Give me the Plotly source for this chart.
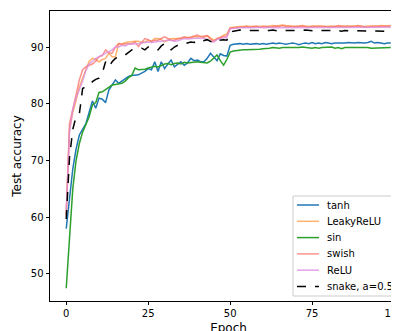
import plotly.graph_objects as go

tanh = [58.0, 63.5, 68.5, 72.0, 74.5, 75.5, 76.5, 78.5, 80.5, 79.2,
        81.0, 80.8, 80.2, 82.4, 83.2, 84.2, 83.6, 84.0, 84.5, 84.8,
        85.0, 85.0, 85.1, 85.4, 85.7, 86.2, 86.0, 87.4, 85.7, 87.4,
        86.2, 87.0, 87.7, 86.5, 87.0, 87.4, 86.8, 87.2, 88.0, 87.6,
        87.7, 87.4, 87.4, 88.0, 88.9, 88.2, 87.6, 88.8, 88.5, 88.4,
        90.3, 90.5, 90.6, 90.6, 90.5, 90.6, 90.5, 90.6, 90.6, 90.5,
        90.6, 90.5, 90.6, 90.7, 90.6, 90.7, 90.6, 90.5, 90.6, 90.7,
        90.6, 90.4, 90.6, 90.7, 90.6, 90.8, 90.6, 90.7, 90.6, 90.8,
        90.7, 90.6, 90.7, 90.7, 90.6, 90.7, 90.8, 90.7, 90.7, 90.8,
        90.7, 90.7, 90.8, 91.0, 90.7, 90.8, 90.7, 90.6, 90.7, 90.7]

leaky = [60.3, 75.5, 78.5, 80.5, 83.0, 84.5, 86.0, 87.5, 88.0, 87.8,
         87.4, 87.8, 88.0, 88.9, 88.3, 88.3, 90.6, 90.5, 90.8, 90.9,
         90.9, 91.0, 91.0, 90.8, 90.9, 91.2, 91.0, 91.5, 91.5, 91.3,
         90.9, 91.2, 91.5, 91.5, 91.4, 91.5, 91.6, 91.7, 91.6, 91.8,
         91.8, 91.9, 91.7, 92.0, 91.6, 91.2, 91.4, 91.8, 92.1, 92.3,
         93.4, 93.5, 93.6, 93.6, 93.6, 93.7, 93.6, 93.7, 93.7, 93.6,
         93.7, 93.6, 93.7, 93.8, 93.7, 93.8, 93.9, 93.8, 93.7, 93.7,
         93.6, 93.7, 93.8, 93.7, 93.6, 93.7, 93.7, 93.8, 93.7, 93.6,
         93.7, 93.7, 93.6, 93.8, 93.7, 93.7, 93.6, 93.7, 93.7, 93.8,
         93.7, 93.6, 93.7, 93.7, 93.6, 93.7, 93.8, 93.7, 93.7, 93.8]

sin = [47.5, 56.0, 65.0, 70.0, 73.0, 75.0, 76.5, 77.7, 79.8, 80.2,
       82.0, 82.1, 82.5, 82.9, 83.3, 83.4, 83.5, 83.6, 84.0, 84.6,
       85.0, 86.3, 86.0, 86.0, 86.1, 86.3, 86.5, 86.6, 86.5, 86.8,
       87.0, 87.1, 86.9, 87.1, 87.2, 87.0, 87.3, 87.2, 87.3, 87.4,
       87.4, 87.3, 87.2, 87.2, 87.5, 88.1, 88.6, 87.6, 86.8, 87.8,
       89.1, 89.3, 89.4, 89.4, 89.5, 89.5, 89.5, 89.6, 89.6, 89.6,
       89.7, 89.7, 89.8, 89.9, 89.8, 89.8, 89.9, 89.9, 89.8, 89.9,
       89.9, 89.9, 90.0, 89.9, 89.9, 89.8, 89.9, 89.8, 89.9, 89.9,
       89.9, 90.0, 89.8, 89.9, 89.7, 89.9, 89.9, 89.9, 90.0, 89.9,
       89.9, 89.9, 89.9, 89.8, 89.8, 89.8, 89.9, 89.8, 89.8, 89.9]

swish = [60.5, 76.5, 79.0, 81.5, 84.2, 86.0, 86.5, 86.8, 87.0, 87.5,
         88.3, 88.5, 89.5, 89.0, 88.9, 90.0, 90.6, 90.5, 90.6, 90.6,
         90.6, 90.9, 90.1, 90.8, 91.5, 91.3, 91.0, 91.2, 91.2, 91.5,
         91.8, 91.5, 91.2, 91.2, 91.5, 91.6, 91.8, 91.6, 91.8, 92.0,
         92.1, 91.8, 91.9, 92.0, 91.4, 91.0, 91.5, 91.7, 91.9, 92.0,
         93.3, 93.4, 93.5, 93.5, 93.5, 93.6, 93.5, 93.6, 93.6, 93.5,
         93.6, 93.6, 93.5, 93.6, 93.7, 93.6, 93.8, 93.6, 93.6, 93.5,
         93.6, 93.6, 93.7, 93.6, 93.5, 93.6, 93.6, 93.7, 93.6, 93.6,
         93.5, 93.6, 93.6, 93.7, 93.6, 93.6, 93.5, 93.6, 93.6, 93.7,
         93.6, 93.6, 93.5, 93.6, 93.6, 93.6, 93.7, 93.6, 93.6, 93.7]

relu = [60.8, 75.0, 79.0, 81.0, 82.5, 84.0, 85.9, 87.0, 87.5, 88.0,
        88.3, 88.6, 88.9, 89.2, 89.5, 90.0, 90.0, 90.3, 90.2, 90.5,
        90.5, 90.5, 90.6, 90.7, 90.8, 90.9, 90.8, 90.9, 91.0, 91.0,
        91.1, 91.2, 91.2, 91.0, 91.1, 91.3, 91.5, 91.4, 91.5, 91.5,
        91.6, 91.5, 91.6, 91.3, 91.0, 90.9, 91.3, 91.5, 91.6, 91.7,
        93.2, 93.3, 93.4, 93.4, 93.4, 93.4, 93.3, 93.4, 93.5, 93.4,
        93.4, 93.4, 93.5, 93.4, 93.4, 93.5, 93.4, 93.4, 93.4, 93.5,
        93.4, 93.4, 93.5, 93.4, 93.4, 93.4, 93.5, 93.4, 93.4, 93.5,
        93.4, 93.4, 93.5, 93.4, 93.4, 93.5, 93.4, 93.4, 93.4, 93.5,
        93.4, 93.4, 93.5, 93.4, 93.5, 93.4, 93.4, 93.5, 93.4, 93.5]

snake = [59.7, 70.5, 75.5, 77.7, 78.2, 82.7, 83.0, 83.3, 83.9, 84.3,
         84.5, 85.4, 87.4, 86.5, 87.4, 88.0, 88.3, 88.3, 88.6, 89.0,
         89.5, 89.7, 89.8, 89.8, 89.5, 90.0, 90.0, 89.8, 89.5, 90.2,
         90.6, 90.0, 89.5, 90.0, 90.3, 90.4, 90.6, 90.7, 90.9, 90.8,
         91.2, 91.0, 91.2, 91.3, 91.0, 90.7, 91.1, 91.2, 91.3, 91.2,
         92.6, 92.8, 92.9, 93.0, 92.9, 92.9, 92.9, 92.8, 92.9, 92.9,
         92.9, 92.8, 92.9, 93.0, 92.9, 92.8, 92.9, 92.9, 92.8, 92.9,
         92.9, 92.8, 92.9, 93.0, 92.9, 92.9, 92.8, 92.9, 92.9, 92.8,
         92.9, 92.9, 93.0, 92.9, 92.8, 92.9, 92.9, 92.8, 92.9, 92.9,
         92.8, 92.9, 92.9, 92.9, 92.8, 92.9, 92.8, 92.8, 92.7, 92.7]

names = ["tanh", "LeakyReLU", "sin", "swish", "ReLU", "snake, a=0.5"]
values = [tanh, leaky, sin, swish, relu, snake]
colors = ["#1f77b4", "rgba(255,127,14,0.6)", "#2ca02c",
          "rgba(250,110,100,0.75)", "rgba(220,140,225,0.8)", "black"]
dashes = ["solid", "solid", "solid", "solid", "solid", "dash"]

x_ticks = [0, 25, 50, 75, 100]
y_ticks = [50, 60, 70, 80, 90]

fig = go.Figure()
for name, ys, color, dash in zip(names, values, colors, dashes):
    fig.add_trace(go.Scatter(
        x=list(range(len(ys))), y=ys, mode="lines", name=name,
        line=dict(color=color, width=1.5, dash=dash),
    ))

# The page body adds an 8px offset; figure coords = page coords - 8
OFF = 8
L, T, B = 42, 3, 293          # figure coords of plot area
W, H = 357, 290
FIG_W, FIG_H = L + W, 331


def px(xpage):
    return (xpage - OFF - L) / W


def py(ypage):
    return (B - (ypage - OFF)) / H


shapes = [dict(type="rect", xref="paper", yref="paper",
               x0=px(293), x1=px(430), y0=py(296), y1=py(196),
               line=dict(color="#cccccc", width=1),
               fillcolor="rgba(255,255,255,0.85)", layer="above")]
annotations = []
rows = [205, 221.3, 237.6, 253.9, 270.2, 286.5]
for name, color, dash, ry in zip(names, colors, dashes, rows):
    shapes.append(dict(type="line", xref="paper", yref="paper",
                       x0=px(297), x1=px(319), y0=py(ry), y1=py(ry),
                       line=dict(color=color, width=1.5, dash=dash),
                       layer="above"))
    annotations.append(dict(text=name, xref="paper", yref="paper",
                            x=px(325), y=py(ry), xanchor="left",
                            yanchor="middle", showarrow=False,
                            font=dict(size=10, color="black")))

fig.update_layout(
    width=FIG_W, height=FIG_H,
    margin=dict(l=L, r=0, t=T, b=FIG_H - B),
    paper_bgcolor="white", plot_bgcolor="white",
    font=dict(family="DejaVu Sans", size=10, color="black"),
    showlegend=False,
    shapes=shapes, annotations=annotations,
    xaxis=dict(range=[-4.95, 103.95], tickvals=x_ticks, showgrid=False,
               zeroline=False, showline=True, mirror=True, linecolor="black",
               linewidth=0.8, ticks="outside", ticklen=3.5, tickcolor="black",
               automargin=False,
               title=dict(text="Epoch", standoff=5)),
    yaxis=dict(range=[45.24, 96.35], tickvals=y_ticks, showgrid=False,
               zeroline=False, showline=True, mirror=True, linecolor="black",
               linewidth=0.8, ticks="outside", ticklen=3.5, tickcolor="black",
               automargin=False,
               title=dict(text="Test accuracy", standoff=6)),
)

fig.write_html("out.html")
